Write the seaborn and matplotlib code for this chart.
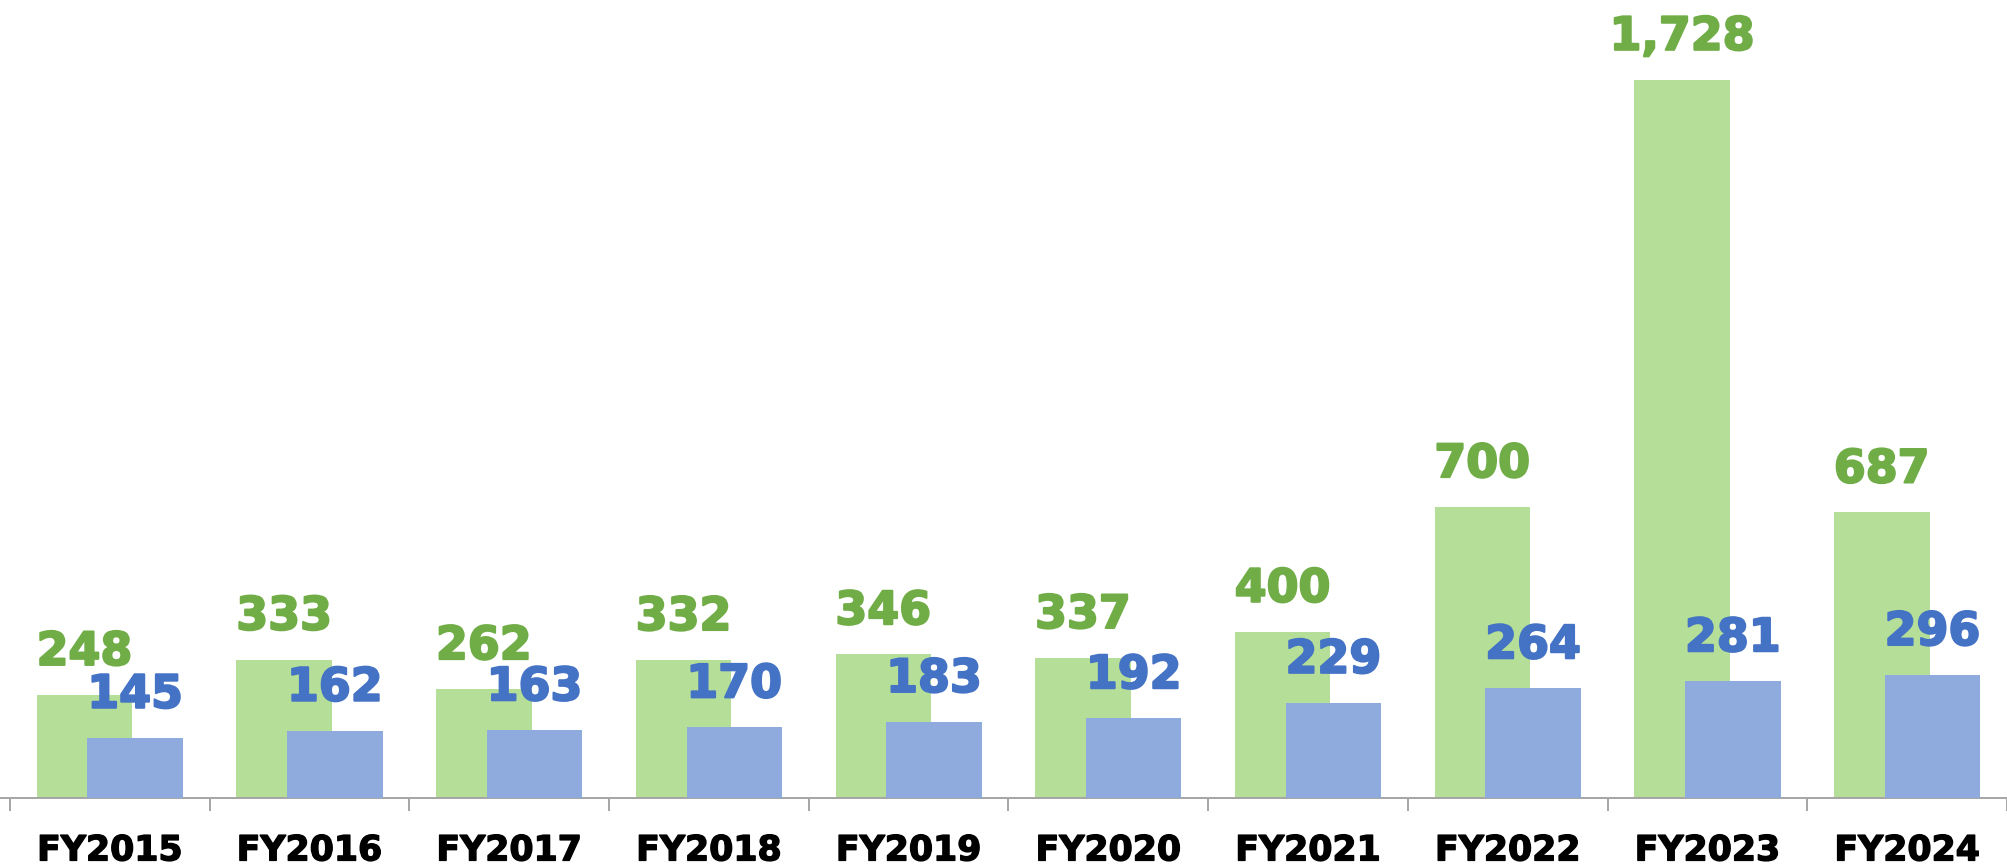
import numpy as np
import pandas as pd
import matplotlib
matplotlib.use("Agg")
import matplotlib.pyplot as plt
import matplotlib.patheffects as pe
import seaborn as sns

# data
years = ["FY2015", "FY2016", "FY2017", "FY2018", "FY2019",
         "FY2020", "FY2021", "FY2022", "FY2023", "FY2024"]
green_vals = [248, 333, 262, 332, 346, 337, 400, 700, 1728, 687]
blue_vals = [145, 162, 163, 170, 183, 192, 229, 264, 281, 296]

bar_fill_green = "#b5de98"
bar_fill_blue = "#8faadc"
text_green = "#70ad47"
text_blue = "#4472c4"

sns.set_style("white")
plt.rcParams["font.family"] = ["DejaVu Sans"]

idx = np.arange(len(years))
shift = 0.127
df_g = pd.DataFrame({"pos": idx - shift, "val": green_vals})
df_b = pd.DataFrame({"pos": idx + shift, "val": blue_vals})

fig = plt.figure(figsize=(20.07, 8.66), dpi=100)
ax = fig.add_axes([0, 68 / 866, 1, 1 - 68 / 866])

# green behind, blue in front (overlapping bars)
sns.barplot(data=df_g, x="pos", y="val", native_scale=True, width=0.478,
            color=bar_fill_green, saturation=1, linewidth=0, ax=ax, zorder=2)
n_green = len(ax.patches)
sns.barplot(data=df_b, x="pos", y="val", native_scale=True, width=0.478,
            color=bar_fill_blue, saturation=1, linewidth=0, ax=ax, zorder=3)

# value labels (thin stroke to get the heavy look of the original font)
for i, p in enumerate(ax.patches):
    col = text_green if i < n_green else text_blue
    v = p.get_height()
    ax.annotate(f"{v:,.0f}", (p.get_x() + p.get_width() / 2, v),
                xytext=(0, 21.6), textcoords="offset points",
                ha="center", va="baseline", fontsize=33,
                fontweight="bold", color=col, zorder=5,
                path_effects=[pe.withStroke(linewidth=1.5, foreground=col)])

ax.set_xlim(-0.5 - 10 / 201, -0.5 + 1997 / 201)
ax.set_ylim(0, 1920)
ax.set_xlabel("")
ax.set_ylabel("")
ax.set_yticks([])

# category labels at centers, tick marks at boundaries
ax.set_xticks(idx)
ax.set_xticklabels(years, fontsize=25, fontweight="bold", color="black")
for t in ax.get_xticklabels():
    t.set_path_effects([pe.withStroke(linewidth=1.0, foreground="black")])
ax.set_xticks(np.arange(-0.5, len(years), 1), minor=True)
ax.tick_params(axis="x", which="major", length=0, pad=25.5)
ax.tick_params(axis="x", which="minor", length=9.4, width=1.4,
               color="#a5a5a5", direction="out", bottom=True)

for s in ["top", "left", "right"]:
    ax.spines[s].set_visible(False)
ax.spines["bottom"].set_color("#a5a5a5")
ax.spines["bottom"].set_linewidth(1.4)

fig.savefig("out.png", dpi=100)
